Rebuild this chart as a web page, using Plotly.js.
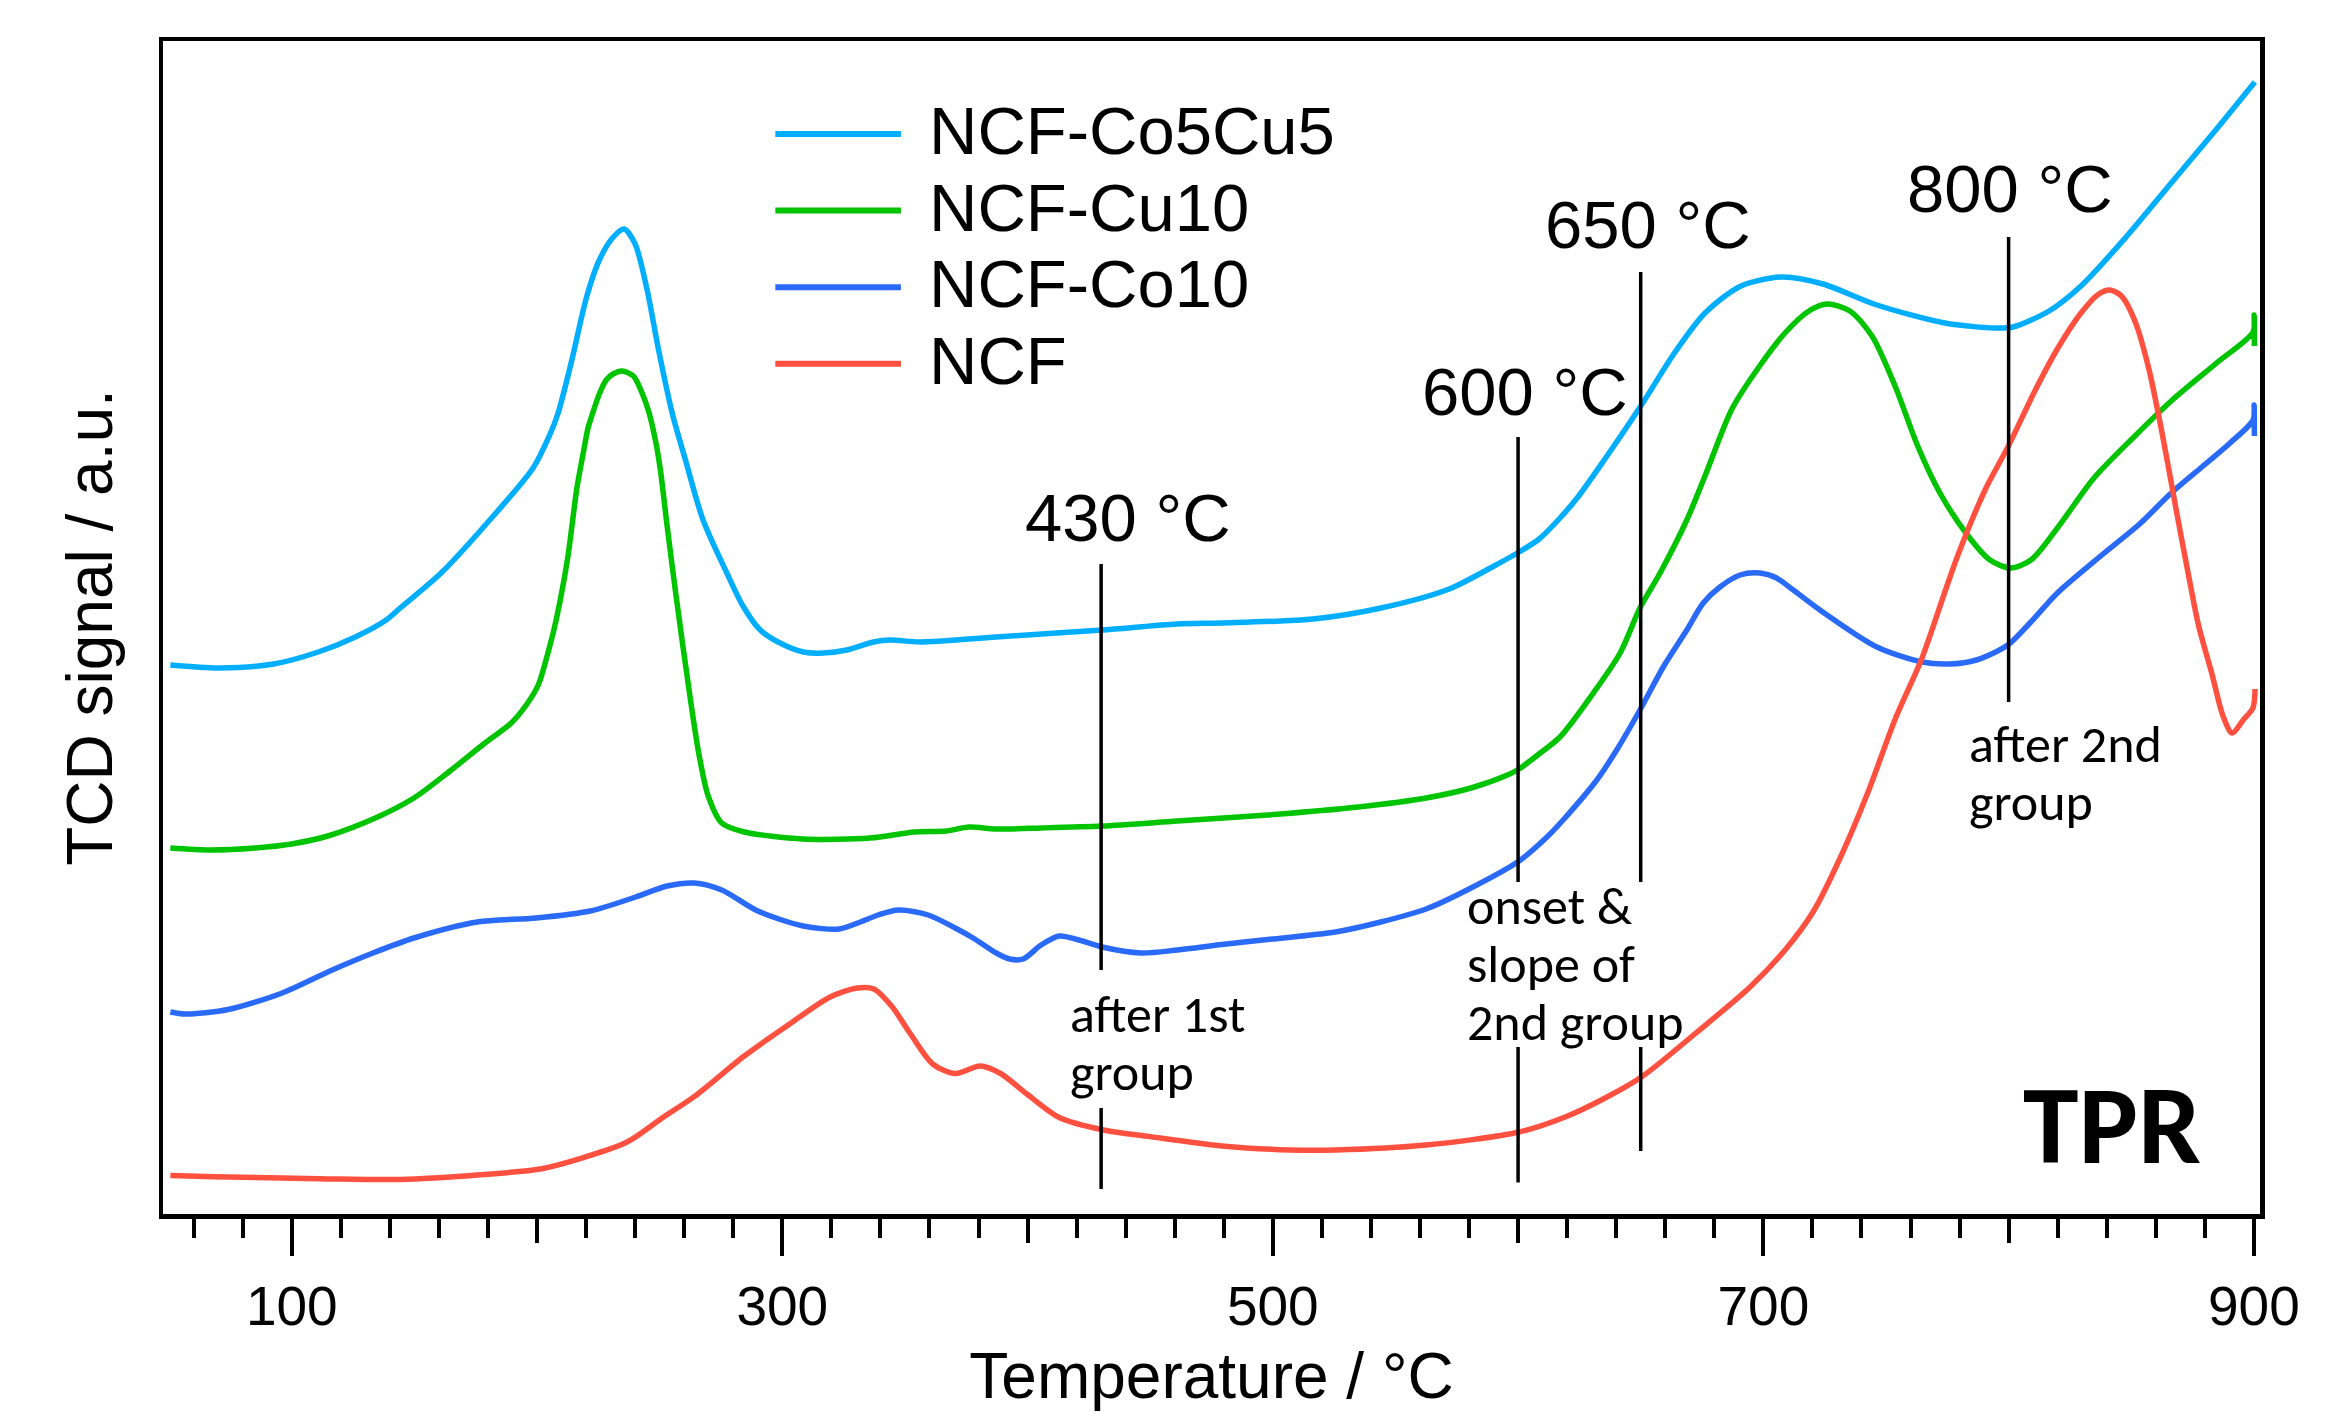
<!DOCTYPE html>
<html>
<head>
<meta charset="utf-8">
<script src="https://cdn.plot.ly/plotly-3.0.1.min.js"></script>
<style>
  html, body { margin: 0; padding: 0; background: #ffffff; }
  #chart { width: 2348px; height: 1412px; }
</style>
</head>
<body>
<div id="chart"></div>
<script>
// ---------------- data ----------------
const seriesNames  = ['NCF-Co5Cu5', 'NCF-Cu10', 'NCF-Co10', 'NCF'];
const seriesColors = ['#00AEFF', '#00C400', '#2A6AF8', '#FF5040'];

// temperature (°C) and TCD signal (a.u.)
const tempCo5Cu5 = [50.5,70.4,92.5,110.8,125.9,138.5,144.2,160.9,179.3,198.4,205.0,208.6,214.3,220.1,225.4,231.1,235.5,240.0,244.9,249.4,255.1,260.4,267.7,277.4,284.2,291.0,299.1,308.6,316.8,326.3,337.2,344.0,356.2,387.2,430.4,461.0,479.3,516.4,544.1,571.9,590.2,600.4,608.6,617.1,624.4,635.4,650.3,663.2,676.2,690.9,707.6,724.3,746.3,774.0,794.4,801.8,816.5,829.5,847.9,866.3,884.8,900.4];
const sigCo5Cu5  = [55.1,54.8,55.2,56.4,57.9,59.6,60.8,64.3,69.2,74.8,78.0,80.3,85.7,91.8,95.6,97.9,98.7,97.2,92.6,86.8,80.3,75.7,69.6,64.3,60.9,58.6,57.3,56.4,56.3,56.6,57.4,57.6,57.4,57.9,58.6,59.2,59.3,59.7,60.8,62.7,65.0,66.4,67.7,69.8,71.9,75.7,81.1,86.1,90.3,93.0,93.9,93.2,91.1,89.3,88.8,88.9,90.5,93.0,97.9,103.3,108.7,113.4];

const tempCu10 = [50.5,66.7,85.1,99.9,114.7,135.0,149.8,164.5,179.3,189.5,195.9,200.5,205.1,207.8,212.5,216.2,219.0,220.8,222.7,225.4,228.2,231.0,234.7,239.3,243.0,245.7,248.5,250.3,253.1,256.7,262.4,266.0,269.8,275.3,284.5,308.5,335.8,353.8,366.8,376.1,387.2,405.5,430.4,461.0,497.9,534.8,562.5,580.8,595.7,600.4,608.5,617.1,630.7,641.6,649.7,657.9,668.8,676.2,687.2,698.2,709.2,718.6,726.0,735.3,744.3,753.7,763.1,772.0,783.2,792.4,800.8,809.1,820.2,834.8,851.5,866.3,884.8,899.7,900.1,900.2];
const sigCu10  = [36.8,36.6,36.8,37.2,38.0,39.9,41.8,44.5,47.4,49.3,51.2,53.1,56.9,59.6,65.8,72.7,76.5,78.8,80.3,82.2,83.6,84.2,84.5,84.0,82.2,80.3,77.3,74.6,68.9,62.0,51.9,46.2,42.0,39.3,38.4,37.7,37.8,38.4,38.5,38.9,38.7,38.8,39.0,39.5,40.1,40.9,41.8,42.8,44.1,44.7,46.2,47.9,52.3,56.3,60.8,64.3,69.6,74.0,80.7,84.9,88.4,90.5,91.2,90.5,88.0,83.0,76.9,72.3,68.1,65.6,64.8,65.6,68.9,73.8,78.0,81.5,85.3,88.4,90.1,87.0];

const tempCo10 = [50.5,56.6,74.1,96.1,116.5,133.1,149.8,175.6,199.6,221.7,240.2,253.1,264.1,275.3,290.0,308.5,323.2,331.8,339.1,347.4,359.5,370.5,377.8,387.2,392.7,398.2,405.5,412.9,420.2,430.4,446.2,461.0,479.3,497.9,525.5,544.0,562.5,580.8,600.4,612.2,619.1,632.1,640.2,649.7,659.2,668.8,675.5,682.3,690.5,698.6,705.4,712.2,723.1,746.3,764.7,775.8,786.9,799.7,808.7,820.1,838.5,853.4,866.3,879.3,890.3,899.7,900.1,900.2];
const sigCo10  = [20.4,20.2,20.65,22.3,24.6,26.3,27.8,29.4,29.8,30.5,31.9,33.0,33.3,32.6,30.5,29.0,28.7,29.4,30.1,30.6,30.1,28.8,27.8,26.3,25.7,25.7,27.1,28.0,27.65,26.9,26.3,26.6,27.15,27.65,28.4,29.4,30.7,32.8,35.5,38.0,39.8,43.6,46.6,50.6,54.9,58.6,61.3,62.9,64.1,64.3,63.8,62.6,60.6,56.9,55.4,55.2,55.6,57.1,59.3,62.35,66.2,69.2,72.3,75.0,77.3,79.6,81.1,78.0];

const tempNCF = [50.5,68.4,111.0,144.2,175.6,201.3,216.2,236.5,251.3,264.2,284.5,303.0,319.5,330.6,337.3,344.7,352.0,361.3,370.5,380.7,389.0,400.0,412.9,430.4,449.9,479.3,507.0,525.5,562.5,600.4,619.2,635.5,650.3,672.5,694.6,709.2,720.5,731.5,742.7,753.7,764.7,774.0,779.5,790.6,799.7,810.9,820.1,829.5,836.8,841.3,846.0,851.5,857.0,862.5,868.2,873.5,877.4,882.9,887.4,891.1,895.8,899.6,900.5];
const sigNCF  = [4.04,3.92,3.73,3.65,4.1,4.7,5.64,7.37,9.85,11.96,16.0,19.2,21.9,22.8,22.7,20.95,18.3,15.2,14.25,15.0,14.25,12.15,9.85,8.63,7.94,7.0,6.6,6.6,7.1,8.4,9.9,11.8,13.9,18.3,22.9,26.7,30.5,35.9,42.4,49.65,55.8,62.4,66.2,72.7,76.9,82.6,86.8,90.3,92.2,92.6,92.0,89.5,84.9,78.4,70.8,63.9,59.1,54.2,50.0,48.3,49.65,50.8,52.7];

// axis ticks
const xTickVals  = [100, 300, 500, 700, 900];
const xTickText  = ['100', '300', '500', '700', '900'];
const xMidTicks  = [200, 400, 600, 800];

// marked temperatures and notes
const markerTemps  = [430, 600, 650, 800];
const markerLabels = ['430 °C', '600 °C', '650 °C', '800 °C'];
const noteLines    = [['after 1st', 'group'], ['onset &amp;', 'slope of', '2nd group'], ['after 2nd', 'group']];
const cornerLabel  = 'TPR';

// ---------------- chart ----------------
const temps = [tempCo5Cu5, tempCu10, tempCo10, tempNCF];
const sigs  = [sigCo5Cu5, sigCu10, sigCo10, sigNCF];

const traces = seriesNames.map((name, i) => ({
  type: 'scatter', mode: 'lines', name: name,
  x: temps[i], y: sigs[i],
  line: { color: seriesColors[i], width: 5.5, shape: 'spline', smoothing: 0.8 },
  hoverinfo: 'skip'
}));

const ARIAL = '"Liberation Sans", Arial, Helvetica, sans-serif';
const NOTE  = 'Carlito, Lato, "Open Sans", sans-serif';

// minor ticks every 20 °C (not at labelled majors)
const minorVals = [];
for (let t = 60; t <= 900; t += 20) if (!xTickVals.includes(t)) minorVals.push(t);

const xRange = [47.5, 902.5];
const yRange = [0.2, 117.5];

// vertical marker segments: [temperature index, yFrom, yTo] in signal units
const segLayout = [
  [0, 65.2, 24.6], [0, 10.8, 2.7],
  [1, 77.9, 33.4], [1, 16.9, 3.35],
  [2, 94.4, 33.4], [2, 16.9, 6.5],
  [3, 97.9, 51.4]
];
const shapes = segLayout.map(s => ({
  type: 'line', xref: 'x', yref: 'y',
  x0: markerTemps[s[0]], x1: markerTemps[s[0]], y0: s[1], y1: s[2],
  line: { color: '#000', width: 3.5 }
}));

// legend (drawn by hand to reproduce the long sample lines)
const legX0 = 0.2920, legX1 = 0.3519, legTextX = 0.3644, legTop = 0.9207, legStep = 0.0653;
seriesNames.forEach((n, i) => {
  const yy = legTop - i * legStep;
  shapes.push({ type: 'line', xref: 'paper', yref: 'paper', x0: legX0, x1: legX1, y0: yy, y1: yy,
    line: { color: seriesColors[i], width: 6 } });
});

const annotations = [];
seriesNames.forEach((n, i) => {
  annotations.push({ xref: 'paper', yref: 'paper', x: legTextX, y: legTop - i * legStep + 0.003,
    text: n, showarrow: false, xanchor: 'left', yanchor: 'middle',
    font: { family: ARIAL, size: 67, color: '#000' } });
});

// temperature labels above marker lines: [x centre, y centre]
const labelPos = [[440.8, 69.9], [602.8, 82.5], [653.0, 99.2], [800.5, 102.8]];
markerLabels.forEach((t, i) => {
  annotations.push({ xref: 'x', yref: 'y', x: labelPos[i][0], y: labelPos[i][1],
    text: t, showarrow: false, xanchor: 'center', yanchor: 'middle',
    font: { family: ARIAL, size: 67, color: '#000' } });
});

// notes: [left x, first line centre y]
const notePos = [[416.6, 20.2], [578.4, 31.0], [783.0, 47.2]];
const noteStep = 5.8;
noteLines.forEach((lines, i) => {
  lines.forEach((ln, j) => {
    annotations.push({ xref: 'x', yref: 'y', x: notePos[i][0], y: notePos[i][1] - j * noteStep,
      text: ln, showarrow: false, xanchor: 'left', yanchor: 'middle', align: 'left',
      font: { family: NOTE, size: 52, color: '#000' } });
  });
});

annotations.push({ xref: 'x', yref: 'y', x: 842.2, y: 9.15, text: '<b>' + cornerLabel + '</b>',
  showarrow: false, xanchor: 'center', yanchor: 'middle',
  font: { family: NOTE, size: 112, color: '#000' } });

const layout = {
  width: 2348, height: 1412,
  margin: { l: 163, r: 88, t: 41, b: 198, pad: 0 },
  paper_bgcolor: '#ffffff', plot_bgcolor: '#ffffff',
  showlegend: false,
  font: { family: ARIAL, color: '#000' },
  xaxis: {
    range: xRange, showline: true, linewidth: 4.5, linecolor: '#000', mirror: true,
    tickmode: 'array', tickvals: xTickVals, ticktext: xTickText,
    ticks: 'outside', ticklen: 37, tickwidth: 4, tickcolor: '#000',
    tickfont: { family: ARIAL, size: 55, color: '#000' }, ticklabelstandoff: 3,
    showgrid: false, zeroline: false, automargin: false,
    minor: { tickmode: 'array', tickvals: minorVals, ticks: 'outside', ticklen: 19, tickwidth: 4, tickcolor: '#000', showgrid: false },
    title: { text: 'Temperature / °C', font: { family: ARIAL, size: 64, color: '#000' }, standoff: 22 }
  },
  xaxis2: {
    overlaying: 'x', anchor: 'y', side: 'bottom', range: xRange,
    tickmode: 'array', tickvals: xMidTicks, ticks: 'outside', ticklen: 28, tickwidth: 4, tickcolor: '#000',
    showticklabels: false, showline: false, showgrid: false, zeroline: false, automargin: false
  },
  yaxis: {
    range: yRange, showline: true, linewidth: 4.5, linecolor: '#000', mirror: true,
    ticks: '', showticklabels: false, showgrid: false, zeroline: false, automargin: false,
    title: { text: 'TCD signal / a.u.', font: { family: ARIAL, size: 64, color: '#000' }, standoff: 26 }
  },
  shapes: shapes,
  annotations: annotations
};

// invisible trace to bring the mid-tick axis into existence
traces.push({ type: 'scatter', mode: 'lines', x: [xRange[0]], y: [yRange[0]], xaxis: 'x2', yaxis: 'y',
  line: { width: 0 }, hoverinfo: 'skip', showlegend: false });

Plotly.newPlot('chart', traces, layout, { staticPlot: true, displayModeBar: false });
</script>
</body>
</html>
